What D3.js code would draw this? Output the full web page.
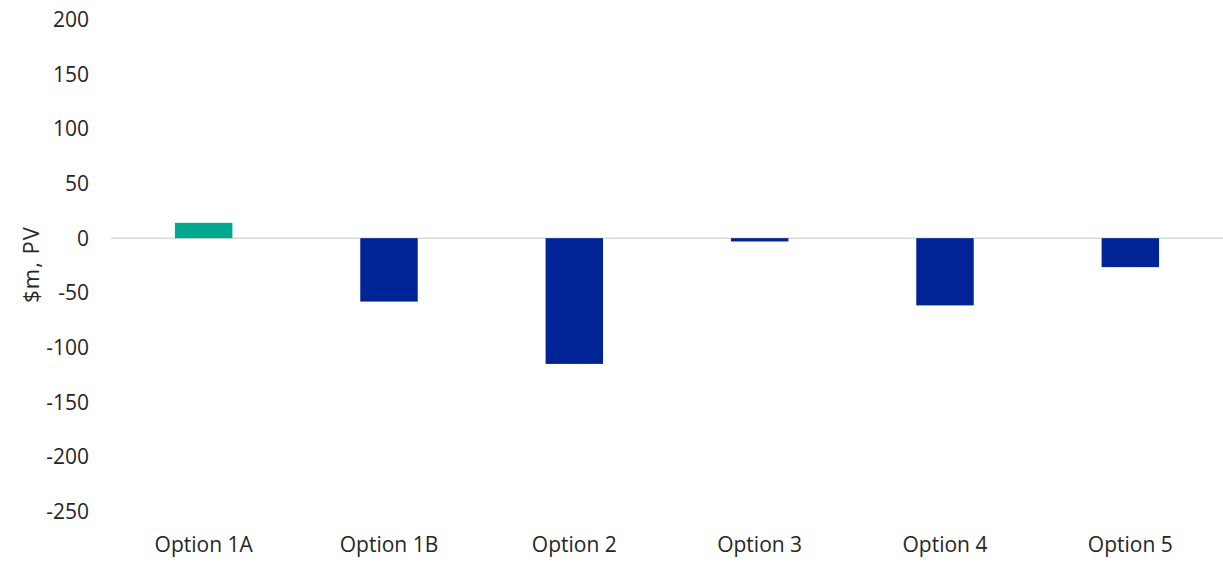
<!DOCTYPE html>
<html>
<head>
<meta charset="utf-8">
<script src="https://cdn.jsdelivr.net/npm/d3@7"></script>
<style>
  body { margin: 0; background: #fff; }
  text { font-family: "Open Sans", sans-serif; fill: #262626; }
</style>
</head>
<body>
<div id="chart"></div>
<script>
const categories = ["Option 1A", "Option 1B", "Option 2", "Option 3", "Option 4", "Option 5"];
const values = [14, -58, -115, -3, -61.5, -26.5];
const yTicks = [200, 150, 100, 50, 0, -50, -100, -150, -200, -250];

const width = 1223;
const height = 562;
const margin = { top: 19.5, right: 0, bottom: 50.5, left: 111 };

const svg = d3.select("#chart")
  .append("svg")
  .attr("width", width)
  .attr("height", height);

const x = d3.scaleBand()
  .domain(categories)
  .range([margin.left, width - margin.right])
  .paddingInner(0.69)
  .paddingOuter(0.345);

const y = d3.scaleLinear()
  .domain([-250, 200])
  .range([height - margin.bottom, margin.top]);

// zero line
svg.append("line")
  .attr("x1", margin.left)
  .attr("x2", width)
  .attr("y1", y(0))
  .attr("y2", y(0))
  .attr("stroke", "#d9d9d9")
  .attr("stroke-width", 1.5);

// y tick labels
svg.append("g")
  .selectAll("text")
  .data(yTicks)
  .join("text")
  .attr("x", 89)
  .attr("y", (d) => y(d))
  .attr("dy", "0.35em")
  .attr("text-anchor", "end")
  .style("font-size", "21px")
  .text((d) => d);

// bars
svg.append("g")
  .selectAll("rect")
  .data(values)
  .join("rect")
  .attr("x", (d, i) => x(categories[i]))
  .attr("width", x.bandwidth())
  .attr("y", (d) => y(Math.max(0, d)))
  .attr("height", (d) => Math.abs(y(d) - y(0)))
  .attr("fill", (d) => (d > 0 ? "#00A88F" : "#002395"));

// category labels
svg.append("g")
  .selectAll("text")
  .data(categories)
  .join("text")
  .attr("x", (d) => x(d) + x.bandwidth() / 2)
  .attr("y", 545)
  .attr("dy", "0.35em")
  .attr("text-anchor", "middle")
  .style("font-size", "21px")
  .text((d) => d);

// y axis title
svg.append("text")
  .attr("transform", `translate(31, ${y(-24)}) rotate(-90)`)
  .attr("text-anchor", "middle")
  .attr("dy", "0.35em")
  .style("font-size", "22px")
  .style("letter-spacing", "1px")
  .text("$m, PV");
</script>
</body>
</html>
